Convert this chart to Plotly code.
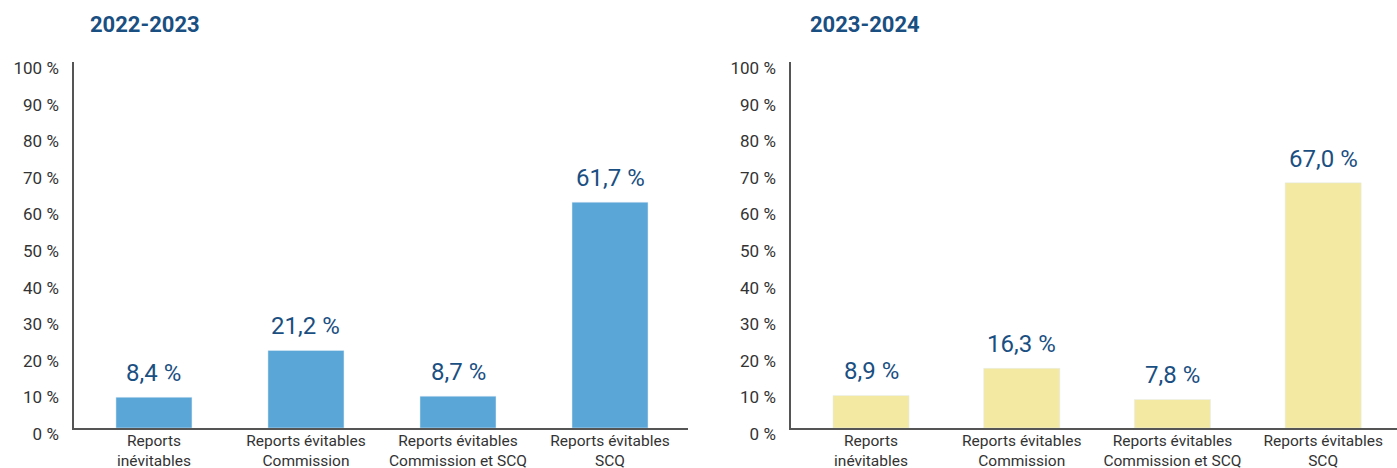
import plotly.graph_objects as go

categories = ["Reports<br>inévitables", "Reports évitables<br>Commission",
              "Reports évitables<br>Commission et SCQ", "Reports évitables<br>SCQ"]
values_2022 = [8.4, 21.2, 8.7, 61.7]
values_2023 = [8.9, 16.3, 7.8, 67.0]
labels_2022 = ["8,4 %", "21,2 %", "8,7 %", "61,7 %"]
labels_2023 = ["8,9 %", "16,3 %", "7,8 %", "67,0 %"]
titles = ["2022-2023", "2023-2024"]
tick_vals = [0, 10, 20, 30, 40, 50, 60, 70, 80, 90, 100]
tick_text = [f"{v} %" for v in tick_vals]

W, H = 1397, 468
TOP, BOTTOM = 62, 40
FONT = "Roboto"
TITLE_C = "#1a4f82"
TICK_C = "#333333"
AXIS_C = "#555555"


def py(pix):
    # convert a pixel row into paper coordinates (paper = plot area inside margins)
    return (H - BOTTOM - pix) / (H - TOP - BOTTOM)


fig = go.Figure()
fig.add_trace(go.Bar(x=categories, y=values_2022, marker_color="#5aa6d7", width=0.5,
                     xaxis="x", yaxis="y", showlegend=False, hoverinfo="skip"))
fig.add_trace(go.Bar(x=categories, y=values_2023, marker_color="#f3e9a3", width=0.505,
                     xaxis="x2", yaxis="y2", showlegend=False, hoverinfo="skip"))

annotations = []
for xr, yr, vals, labs in [("x", "y", values_2022, labels_2022),
                           ("x2", "y2", values_2023, labels_2023)]:
    for c, v, t in zip(categories, vals, labs):
        annotations.append(dict(x=c, y=v, xref=xr, yref=yr, text=t, showarrow=False,
                                yanchor="bottom", yshift=8,
                                font=dict(family=FONT, size=24, color=TITLE_C)))
for cx, t in [(145, titles[0]), (865, titles[1])]:
    annotations.append(dict(x=cx / W, y=py(24), xref="paper", yref="paper",
                            text="<b>" + t + "</b>", showarrow=False,
                            xanchor="center", yanchor="middle",
                            font=dict(family=FONT, size=22, color=TITLE_C)))

xcommon = dict(showline=True, linecolor=AXIS_C, linewidth=2, ticks="",
               tickfont=dict(family=FONT, size=15.5, color=TICK_C),
               ticklabelstandoff=-3,
               showgrid=False, zeroline=False, automargin=False, fixedrange=True)
ycommon = dict(range=[0, 100], tickvals=tick_vals, ticktext=tick_text,
               showline=True, linecolor=AXIS_C, linewidth=1.5, ticks="",
               tickfont=dict(family=FONT, size=17, color=TICK_C),
               showgrid=False, zeroline=False, automargin=False,
               ticklabelstandoff=10, ticklabelshift=6, fixedrange=True)

fig.update_layout(
    width=W, height=H,
    margin=dict(l=0, r=0, t=TOP, b=BOTTOM),
    plot_bgcolor="white", paper_bgcolor="white",
    xaxis=dict(domain=[74 / W, 688 / W], anchor="y", range=[-0.526, 3.513], **xcommon),
    yaxis=dict(domain=[0, 1], anchor="x", **ycommon),
    xaxis2=dict(domain=[791 / W, 1.0], anchor="y2", range=[-0.531, 3.49], **xcommon),
    yaxis2=dict(domain=[0, 1], anchor="x2", **ycommon),
    annotations=annotations,
)

fig.write_html("out.html", config={"displayModeBar": False},
               post_script="document.body.style.margin='0';document.body.style.overflow='hidden';")
